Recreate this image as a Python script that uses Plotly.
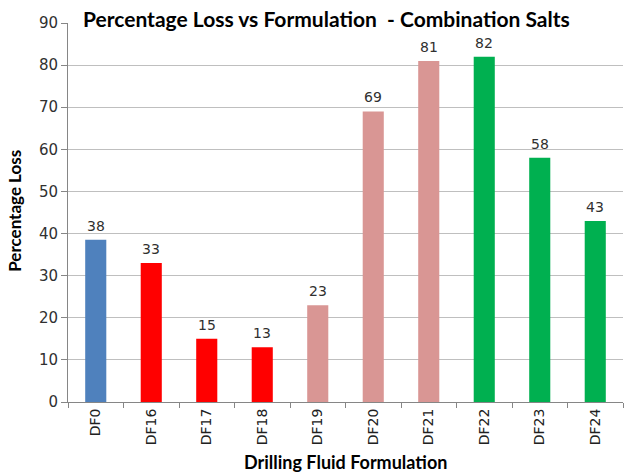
import plotly.graph_objs as go

formulations = ["DF0", "DF16", "DF17", "DF18", "DF19", "DF20", "DF21", "DF22", "DF23", "DF24"]
pct_loss = [38.5, 33, 15, 13, 23, 69, 81, 82, 58, 43]
bar_labels = ["38", "33", "15", "13", "23", "69", "81", "82", "58", "43"]
bar_colors = ["#4F81BD", "#FF0000", "#FF0000", "#FF0000",
              "#D99694", "#D99694", "#D99694",
              "#00B050", "#00B050", "#00B050"]

title_font = "Lato"
num_font = "DejaVu Sans"

bars = go.Bar(
    x=formulations,
    y=pct_loss,
    marker=dict(color=bar_colors, line=dict(width=0)),
    width=0.38,
    hoverinfo="x+y"
)

# value labels a little above each bar
value_notes = [
    dict(x=f, y=v, text=t, xref="x", yref="y", yanchor="bottom",
         yshift=4, showarrow=False,
         font=dict(family=num_font, size=14, color="#303030"))
    for f, v, t in zip(formulations, pct_loss, bar_labels)
]

layout = go.Layout(
    width=624,
    height=473,
    margin=dict(l=68, r=1, t=23, b=71, autoexpand=False),
    paper_bgcolor="white",
    plot_bgcolor="white",
    showlegend=False,
    font=dict(family=num_font, color="#303030"),
    xaxis=dict(
        automargin=False,
        tickangle=-90,
        tickfont=dict(size=14, color="#202020"),
        showline=True, linecolor="#868686", linewidth=1,
        ticks="outside", ticklen=5, tickcolor="#868686",
        tickson="boundaries",
        showgrid=False,
    ),
    yaxis=dict(
        automargin=False,
        range=[0, 90], dtick=10,
        tickfont=dict(size=15, color="#303030"),
        showline=True, linecolor="#868686", linewidth=1,
        ticks="outside", ticklen=6, tickcolor="#868686",
        showgrid=True, gridcolor="#BFBFBF", gridwidth=1,
        zeroline=False,
    ),
    annotations=value_notes + [
        dict(text="<b>Percentage Loss vs Formulation  - Combination Salts</b>",
             xref="paper", yref="paper", x=0.466, y=1.012, yanchor="middle",
             showarrow=False,
             font=dict(size=21, color="black", family=title_font)),
        dict(text="<b>Drilling Fluid Formulation</b>",
             xref="paper", yref="paper", x=0.5, y=-0.159, yanchor="middle",
             showarrow=False,
             font=dict(size=18, color="black", family=title_font)),
        dict(text="<b>Percentage Loss</b>", textangle=-90,
             xref="paper", yref="paper", x=-0.097, y=0.505, xanchor="center",
             showarrow=False,
             font=dict(size=17, color="black", family=title_font)),
    ],
)

fig = go.Figure(data=[bars], layout=layout)
fig.write_html("out.html", config={"displayModeBar": False},
               post_script="document.body.style.margin='0';")
